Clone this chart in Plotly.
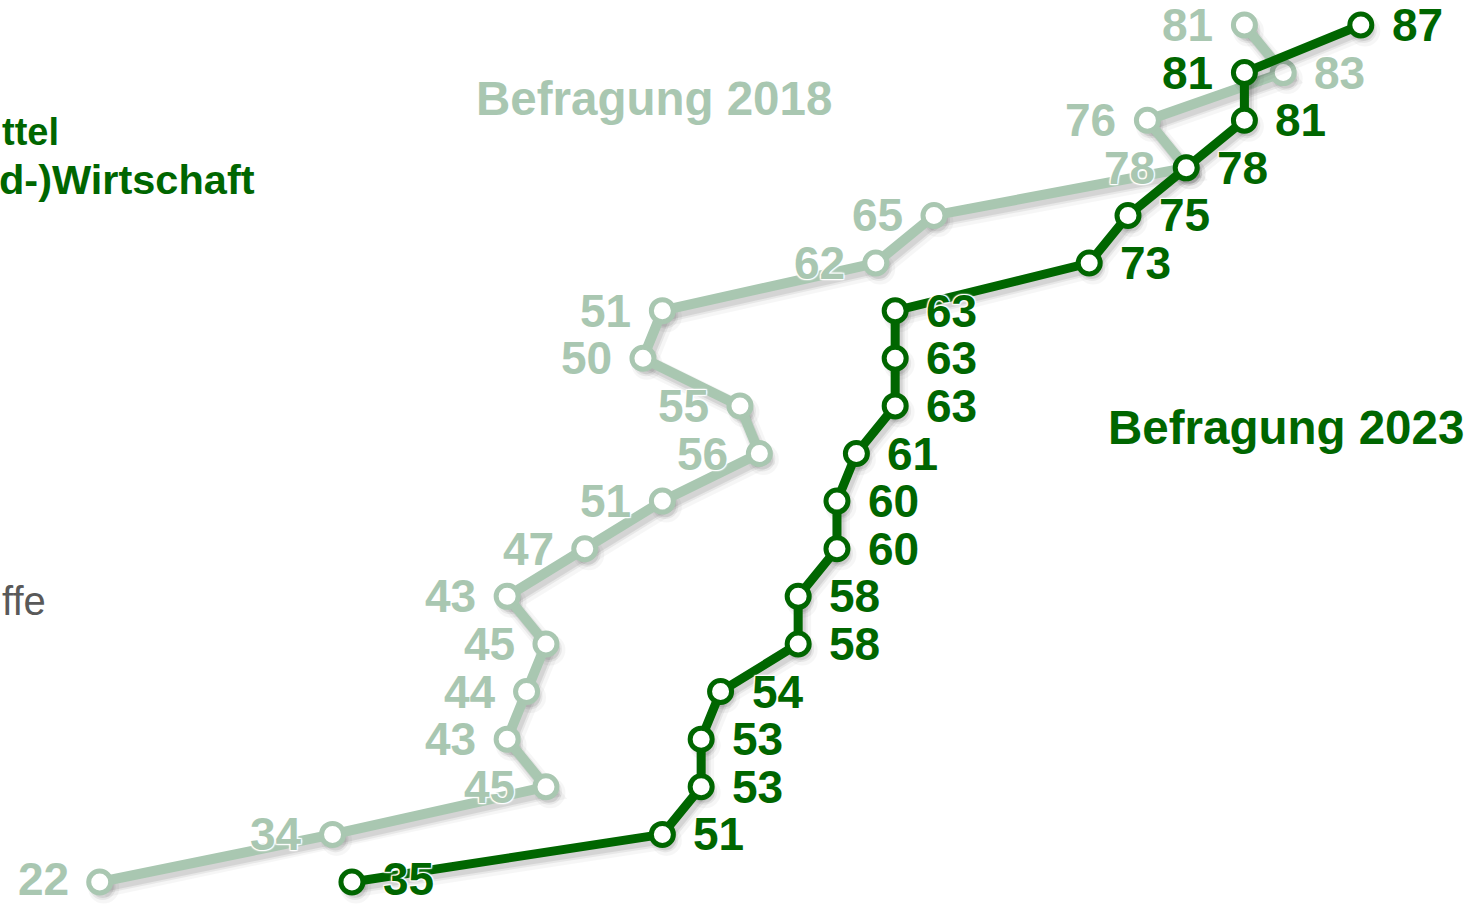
import plotly.graph_objects as go

# ---- data (top row first) ----
rows = list(range(19))
values_2023 = [87, 81, 81, 78, 75, 73, 63, 63, 63, 61, 60, 60, 58, 58, 54, 53, 53, 51, 35]
values_2018 = [81, 83, 76, 78, 65, 62, 51, 50, 55, 56, 51, 47, 43, 45, 44, 43, 45, 34, 22]
label_side_2023 = ["right", "left"] + ["right"] * 17
label_side_2018 = ["left", "right"] + ["left"] * 17
series_names = ["Befragung 2018", "Befragung 2023"]
left_texts = ["ttel", "d-)Wirtschaft", "ffe"]

DARK = "#006600"
LIGHT = "#a9c7b1"
FONT = "Liberation Sans, Arial, Helvetica, sans-serif"
HALO = "1px 1px 1px #fff, -1px -1px 1px #fff, 1px -1px 1px #fff, -1px 1px 1px #fff, 0 0 3px #fff"

W, H = 1478, 906
X_RANGE = [16.86, 93.04]
Y_RANGE = [18.504, -0.525]
px_per_x = W / (X_RANGE[1] - X_RANGE[0])
px_per_y = H / (Y_RANGE[0] - Y_RANGE[1])

fig = go.Figure()

for vals, col, lw in [(values_2018, LIGHT, 10), (values_2023, DARK, 9)]:
    # soft drop shadow (same data, shifted a few pixels down-right)
    for sw, sa, dx, dy in [(lw + 9, 0.035, 4, 6), (lw + 4, 0.06, 3, 5), (lw, 0.08, 3, 5)]:
        fig.add_trace(go.Scatter(
            x=[v + dx / px_per_x for v in vals], y=[r + dy / px_per_y for r in rows],
            mode="lines+markers", line=dict(color=f"rgba(0,0,0,{sa})", width=sw),
            marker=dict(size=22 + sw - lw, color=f"rgba(0,0,0,{sa})"),
            hoverinfo="skip", showlegend=False, cliponaxis=False,
        ))
    fig.add_trace(go.Scatter(
        x=vals, y=rows, mode="lines+markers",
        line=dict(color=col, width=lw),
        marker=dict(size=22, color="white", line=dict(color=col, width=5)),
        hoverinfo="skip", showlegend=False, cliponaxis=False,
    ))

annotations = []
last_row = rows[-1]
for vals, sides, col in [(values_2018, label_side_2018, LIGHT), (values_2023, label_side_2023, DARK)]:
    for r, v, s in zip(rows, vals, sides):
        annotations.append(dict(
            x=v, y=r, xref="x", yref="y", text=str(v), showarrow=False,
            xanchor="left" if s == "right" else "right", yanchor="middle",
            xshift=29 if s == "right" else -29, yshift=3 if r == last_row else 0,
            font=dict(family=FONT, size=46, color=col, weight="bold", shadow=HALO),
        ))

# series titles
annotations.append(dict(x=474 / W, y=1 - 98 / H, xref="paper", yref="paper",
                        text=series_names[0], showarrow=False, xanchor="left", yanchor="middle",
                        font=dict(family=FONT, size=47.5, color=LIGHT, weight="bold")))
annotations.append(dict(x=1106 / W, y=1 - 427 / H, xref="paper", yref="paper",
                        text=series_names[1], showarrow=False, xanchor="left", yanchor="middle",
                        font=dict(family=FONT, size=47.5, color=DARK, weight="bold")))

# labels at the left edge
annotations.append(dict(x=0, y=1 - 132 / H, xref="paper", yref="paper",
                        text=left_texts[0], showarrow=False, xanchor="left", yanchor="middle",
                        font=dict(family=FONT, size=38, color=DARK, weight="bold")))
annotations.append(dict(x=257 / W, y=1 - 179 / H, xref="paper", yref="paper",
                        text=left_texts[1], showarrow=False, xanchor="right", yanchor="middle",
                        font=dict(family=FONT, size=41.5, color=DARK, weight="bold")))
annotations.append(dict(x=0, y=1 - 601 / H, xref="paper", yref="paper",
                        text=left_texts[2], showarrow=False, xanchor="left", yanchor="middle",
                        font=dict(family=FONT, size=40, color="#595959")))

fig.update_layout(
    width=W, height=H,
    margin=dict(l=0, r=0, t=0, b=0),
    paper_bgcolor="white", plot_bgcolor="white",
    xaxis=dict(range=X_RANGE, visible=False, fixedrange=True),
    yaxis=dict(range=Y_RANGE, visible=False, fixedrange=True),
    annotations=annotations,
    showlegend=False,
)

fig.write_html("out.html", config={"displayModeBar": False, "staticPlot": True},
               post_script="document.body.style.margin='0';document.body.style.overflow='hidden';")
